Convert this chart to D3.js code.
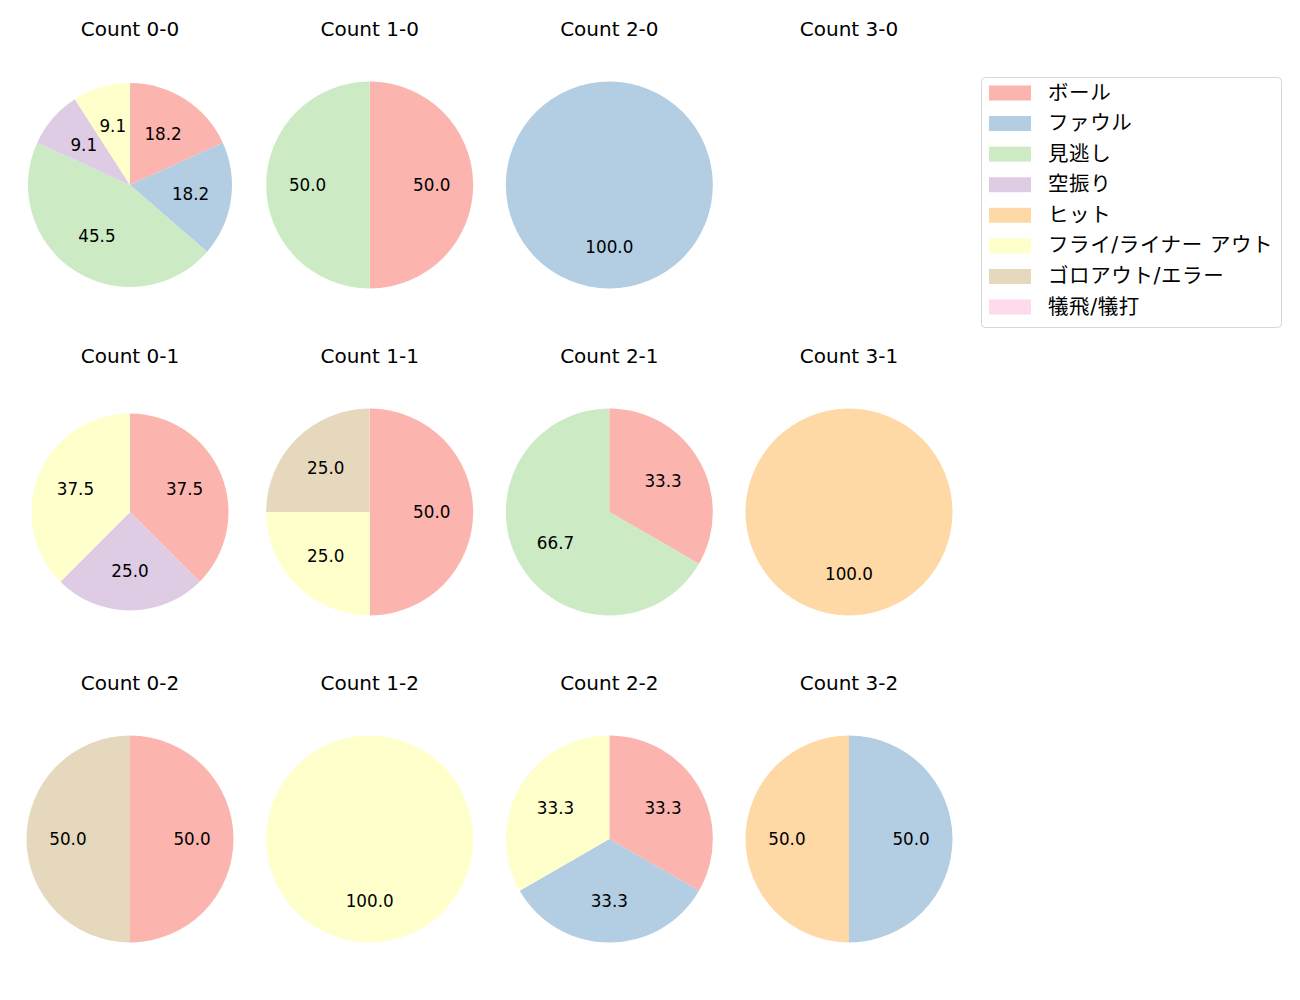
<!DOCTYPE html>
<html><head><meta charset="utf-8">
<script src="https://cdn.jsdelivr.net/npm/d3@7"></script>
<style>body{margin:0;background:#fff;} text{font-family:"DejaVu Sans","Noto Sans CJK JP",sans-serif;}</style>
</head><body>
<svg id="chart" width="1300" height="1000"></svg>
<script>
const categories = ["ボール","ファウル","見逃し","空振り","ヒット","フライ/ライナー アウト","ゴロアウト/エラー","犠飛/犠打"];
const colors = ["#fbb4ae","#b3cde3","#ccebc5","#decbe4","#fed9a6","#ffffcc","#e5d8bd","#fddaec"];
const panelTitles = ["Count 0-0","Count 1-0","Count 2-0","Count 3-0",
                     "Count 0-1","Count 1-1","Count 2-1","Count 3-1",
                     "Count 0-2","Count 1-2","Count 2-2","Count 3-2"];
// counts per category, in category order
const count00 = [2,2,5,1,0,1,0,0];
const count10 = [1,0,1,0,0,0,0,0];
const count20 = [0,1,0,0,0,0,0,0];
const count30 = [0,0,0,0,0,0,0,0];
const count01 = [3,0,0,2,0,3,0,0];
const count11 = [2,0,0,0,0,1,1,0];
const count21 = [1,0,2,0,0,0,0,0];
const count31 = [0,0,0,0,1,0,0,0];
const count02 = [1,0,0,0,0,0,1,0];
const count12 = [0,0,0,0,0,1,0,0];
const count22 = [1,1,0,0,0,1,0,0];
const count32 = [0,1,0,0,1,0,0,0];
const panelCounts = [count00,count10,count20,count30,count01,count11,count21,count31,count02,count12,count22,count32];

const svg = d3.select("#chart");
const colX = d3.scalePoint().domain([0,1,2,3]).range([130,849]);
const rowY = d3.scalePoint().domain([0,1,2]).range([185,839]);
const radii = [102,103.5,103.5,103.5, 98.5,103.5,103.5,103.5, 103.5,103.5,103.5,103.5];
const titleOffset = 156;

const pie = d3.pie().sort(null).value(d=>d.v);

panelCounts.forEach((vals,i)=>{
  const c = i%4, r = Math.floor(i/4);
  const cx = colX(c), cy = rowY(r);
  const g = svg.append("g").attr("transform",`translate(${cx},${cy})`);
  g.append("text").attr("x",0).attr("y",-titleOffset).attr("text-anchor","middle")
    .attr("dominant-baseline","central").attr("font-size",20).attr("fill","#000").text(panelTitles[i]);
  const data = vals.map((v,k)=>({v,k})).filter(d=>d.v>0);
  if(!data.length) return;
  const total = d3.sum(data,d=>d.v);
  const R = radii[i];
  const arc = d3.arc().innerRadius(0).outerRadius(R);
  const labelArc = d3.arc().innerRadius(R*0.6).outerRadius(R*0.6);
  const arcs = pie(data);
  g.selectAll("path").data(arcs).join("path").attr("d",arc).attr("fill",d=>colors[d.data.k]);
  g.selectAll("text.lab").data(arcs).join("text").attr("class","lab")
    .attr("transform",d=>`translate(${labelArc.centroid(d)})`)
    .attr("text-anchor","middle").attr("dominant-baseline","central")
    .attr("font-size",16.8).attr("fill","#000")
    .text(d=>(d.data.v/total*100).toFixed(1));
});

// legend
const lg = svg.append("g").attr("transform","translate(981.5,77.5)");
lg.append("rect").attr("width",300).attr("height",250).attr("rx",4)
  .attr("fill","#fff").attr("stroke","#d6d6d6").attr("stroke-width",1);
const ly = d3.scaleLinear().domain([0,7]).range([15,229]);
categories.forEach((name,k)=>{
  lg.append("rect").attr("x",7.5).attr("y",ly(k)-7).attr("width",42).attr("height",15).attr("fill",colors[k]);
  lg.append("text").attr("x",66.5).attr("y",ly(k)).attr("dominant-baseline","central")
    .attr("font-size",20.5).attr("letter-spacing",0.6).attr("fill","#000").text(name);
});
</script>
</body></html>
